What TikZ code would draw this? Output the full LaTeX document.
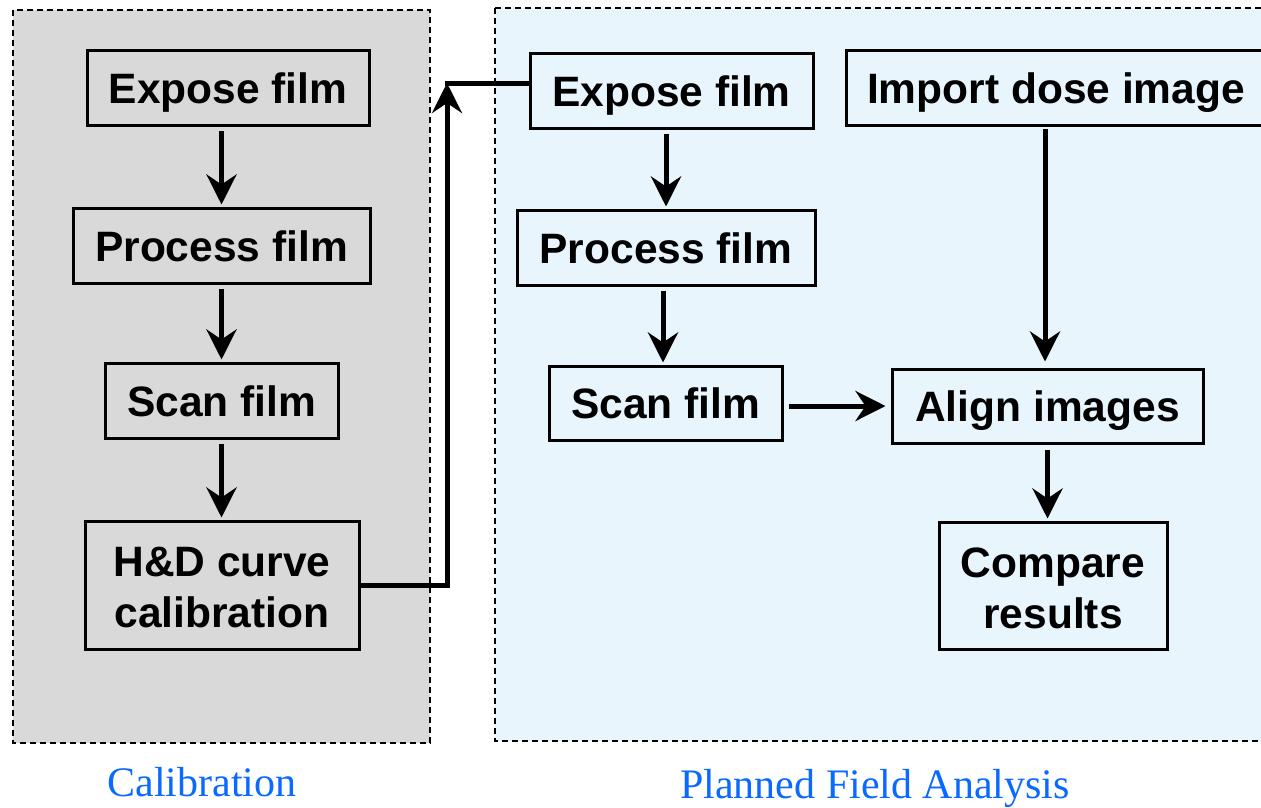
\documentclass[tikz,border=0pt]{standalone}
\usepackage{fontspec}
\setmainfont{Liberation Serif}
\newfontfamily\boxfont{Liberation Sans}
\usetikzlibrary{arrows.meta}
\definecolor{calgray}{HTML}{D9D9D9}
\definecolor{pfblue}{HTML}{E9F5FD}
\definecolor{labblue}{RGB}{10,105,255}
\newcommand{\twoline}[2]{\raisebox{-7pt}[\height][\depth]{\renewcommand{\arraystretch}{1.04}\begin{tabular}{@{}c@{}}#1\\#2\end{tabular}}}
\tikzset{
  panel/.style={draw=black, line width=1.3pt, dash pattern=on 6pt off 4pt},
  box/.style={draw=black, line width=3pt, inner sep=0pt, align=center,
    font=\boxfont\bfseries\fontsize{42.5}{49}\selectfont},
  onebox/.style={box, text height=31pt, text depth=0pt},
  conn/.style={line width=5pt},
  arr/.style={line width=5pt, -{Stealth[length=30pt,width=30pt,inset=10pt]}},
  lab/.style={font=\fontsize{42}{48}\selectfont, text=labblue, inner sep=0pt}
}
\begin{document}
\begin{tikzpicture}[x=1pt,y=-1pt]
\clip (0,0) rectangle (1261,807);
\fill[white] (0,0) rectangle (1261,807);
% panels
\filldraw[panel, fill=calgray] (13,10) rectangle (430,743);
\filldraw[panel, fill=pfblue] (495,8) rectangle (1300,741);
% left column
\node[onebox, minimum width=282pt, minimum height=75pt] (e1) at (228,88) {Expose film};
\node[onebox, minimum width=297pt, minimum height=75pt] (p1) at (221.5,245.5) {Process film};
\node[onebox, minimum width=233pt, minimum height=75pt] (s1) at (221.5,400.5) {Scan film};
\node[box, minimum width=274pt, minimum height=128pt] (hd) at (222,585) {\twoline{H\&D curve}{calibration}};
% right side
\node[onebox, minimum width=283pt, minimum height=75pt] (e2) at (671.5,90.5) {Expose film};
\node[onebox, minimum width=420pt, minimum height=75pt] (im) at (1056,87.5) {Import dose image};
\node[onebox, minimum width=298pt, minimum height=75pt] (p2) at (666,247.5) {Process film};
\node[onebox, minimum width=233pt, minimum height=74pt] (s2) at (665.5,403) {Scan film};
\node[onebox, minimum width=311pt, minimum height=74pt] (al) at (1047.5,406) {Align images};
\node[box, minimum width=228pt, minimum height=127pt] (cm) at (1053,585.5) {\twoline{Compare}{results}};
% labels
\node[lab] (lc) at (202,782) {Calibration};
\node[lab] (lp) at (875,788) {Planned Field Analysis};
% connectors
\draw[arr, shorten <=4pt, shorten >=2pt] (e1.south -| p1.north) -- (p1.north);
\draw[arr, shorten <=4pt, shorten >=2pt] (p1.south) -- (s1.north);
\draw[arr, shorten <=4pt, shorten >=2pt] (s1.south) -- (hd.north -| s1.south);
\coordinate (j) at (447,83);
\draw[arr] (hd.east) -| (j);
\draw[conn] (e2.west |- j) -- ([xshift=-2.5pt]j);
\draw[arr, shorten <=4pt, shorten >=2pt] (e2.south -| p2.north) -- (p2.north);
\draw[arr, shorten <=4pt, shorten >=2pt] (p2.south -| 663,0) -- (s2.north -| 663,0);
\draw[arr, shorten <=5pt, shorten >=5pt] (s2.east |- al.west) -- (al.west);
\draw[arr, shorten <=2pt, shorten >=6pt] (im.south -| 1045,0) -- (al.north -| 1045,0);
\draw[arr, shorten <=5pt, shorten >=2pt] (al.south) -- (al.south |- cm.north);
\end{tikzpicture}
\end{document}
